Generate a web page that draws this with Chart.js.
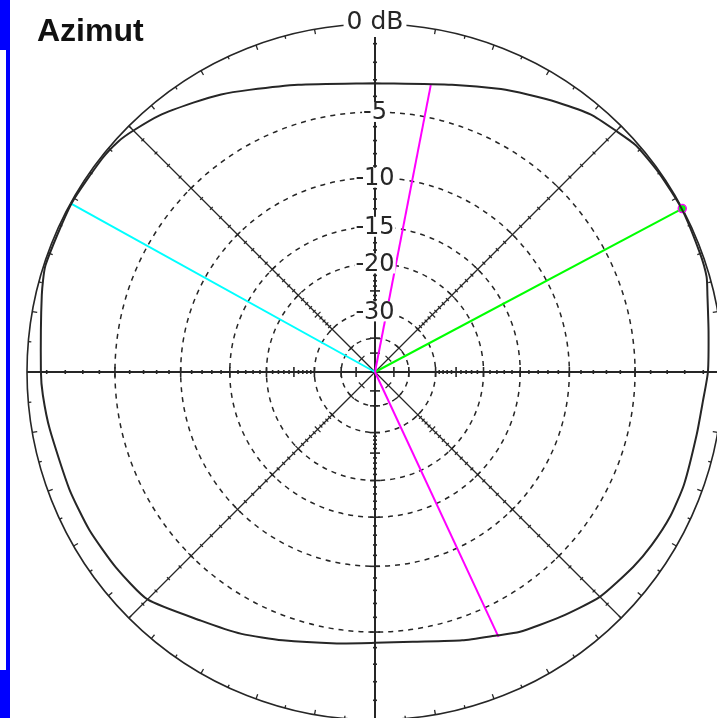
<!DOCTYPE html>
<html>
<head>
<meta charset="utf-8">
<script src="https://cdn.jsdelivr.net/npm/chart.js@4.4.1/dist/chart.umd.min.js"></script>
<style>
  html, body { margin: 0; padding: 0; background: #fff; overflow: hidden; width: 717px; height: 718px; }
  #wrap { position: absolute; left: 0; top: 0; width: 750px; height: 750px; }
  .bar { position: absolute; background: #0000ff; z-index: 2; }
</style>
</head>
<body>
<div id="wrap"><canvas id="azChart" width="750" height="750"></canvas></div>
<div class="bar" style="left:0;top:0;width:10px;height:50px"></div>
<div class="bar" style="left:6px;top:50px;width:4px;height:620px"></div>
<div class="bar" style="left:0;top:670px;width:10px;height:48px"></div>
<script>
// rings of the ARRL log scale (dB)
const ringDb = [-5, -10, -15, -20, -30, -40];
const ringLabels = ["-5", "-10", "-15", "-20", "-30"];

// azimuth pattern, bearing in degrees clockwise from north, gain in dB
const patternAz = [0, 15, 24, 29, 34, 40, 45, 49, 55, 62, 70, 74, 77, 83, 90, 95, 101, 110, 116, 122, 127, 135, 143, 151, 155, 162, 172, 180, 188, 199, 207, 215, 225, 233, 241, 249, 260, 266, 270, 283, 288, 299, 308, 312, 315, 320, 326, 331, 336, 345];
const patternDb = [-3.2, -2.7, -2.0, -1.6, -1.15, -0.6, -0.35, -0.12, -0.06, -0.03, -0.1, -0.15, -0.34, -0.6, -0.76, -0.95, -1.03, -0.97, -0.98, -1.1, -1.25, -1.55, -2.15, -2.7, -3.1, -3.6, -4.2, -4.3, -4.1, -3.5, -2.9, -2.35, -1.35, -1.2, -1.1, -1.05, -0.9, -0.76, -0.7, -0.3, -0.08, -0.04, -0.08, -0.15, -0.32, -0.65, -1.18, -1.58, -2.05, -2.7];

// marker lines: -3 dB points (magenta), max gain (green), back (cyan)
const spokeAz = [11, 155, 299, 62];
const spokeDb = [-3, -3, 0, 0];

function rho(db) {
  return Math.pow(0.89, -db / 2);
}

function toXY(az, db) {
  const r = rho(db);
  const a = az * Math.PI / 180;
  return { x: r * Math.sin(a), y: r * Math.cos(a) };
}

const patternPts = patternAz.map((a, i) => toXY(a, patternDb[i]));
patternPts.push(patternPts[0]);

function spokeData(i) {
  return [{ x: 0, y: 0 }, toXY(spokeAz[i], spokeDb[i])];
}

const ink = "#262626";

const polarGrid = {
  id: "polarGrid",
  beforeDatasetsDraw(chart) {
    const { ctx, scales } = chart;
    const cx = scales.x.getPixelForValue(0);
    const cy = scales.y.getPixelForValue(0);
    const R = scales.x.getPixelForValue(1) - cx;
    ctx.save();
    ctx.strokeStyle = ink;

    // dashed rings
    ctx.lineWidth = 1.5;
    ctx.setLineDash([5, 5]);
    ringDb.forEach(db => {
      ctx.beginPath();
      ctx.arc(cx, cy, R * rho(db), 0, Math.PI * 2);
      ctx.stroke();
    });
    ctx.setLineDash([]);

    // 0 dB ring
    ctx.lineWidth = 1.6;
    ctx.beginPath();
    ctx.arc(cx, cy, R, 0, Math.PI * 2);
    ctx.stroke();

    // bearing ticks on the 0 dB ring
    ctx.lineWidth = 1.3;
    for (let a = 0; a < 360; a += 5) {
      const t = a * Math.PI / 180;
      const s = Math.sin(t), c = Math.cos(t);
      const len = a % 10 === 0 ? 5 : 3;
      ctx.beginPath();
      ctx.moveTo(cx + R * s, cy - R * c);
      ctx.lineTo(cx + (R - len) * s, cy - (R - len) * c);
      ctx.stroke();
    }

    // spokes with dB ticks
    for (let a = 0; a < 360; a += 45) {
      const t = a * Math.PI / 180;
      const s = Math.sin(t), c = Math.cos(t);
      const main = a % 90 === 0;
      ctx.lineWidth = main ? 2 : 1.3;
      ctx.beginPath();
      ctx.moveTo(cx, cy);
      ctx.lineTo(cx + R * s, cy - R * c);
      ctx.stroke();
      ctx.lineWidth = main ? 1.6 : 1.2;
      for (let db = -1; db >= -50; db--) {
        const major = db % 5 === 0;
        if (!major && db < -30) continue;
        if (major && db < -30 && db % 10 !== 0) continue;
        const r = R * rho(db);
        const h = major ? (main ? 5 : 4) : 2;
        const px = cx + r * s, py = cy - r * c;
        ctx.beginPath();
        ctx.moveTo(px - h * c, py - h * s);
        ctx.lineTo(px + h * c, py + h * s);
        ctx.stroke();
      }
    }
    ctx.restore();
  },
  afterDatasetsDraw(chart) {
    const { ctx, scales } = chart;
    const cx = scales.x.getPixelForValue(0);
    const cy = scales.y.getPixelForValue(0);
    const R = scales.x.getPixelForValue(1) - cx;
    ctx.save();
    ctx.textAlign = "center";
    ctx.textBaseline = "middle";

    ctx.font = "24px 'DejaVu Sans', sans-serif";
    ringLabels.forEach((lab, i) => {
      const y = cy - R * rho(ringDb[i]);
      const w = ctx.measureText(lab).width;
      ctx.fillStyle = "#fff";
      ctx.fillRect(cx - w / 2 - 1, y - 10, w + 2, 20);
      ctx.fillStyle = ink;
      ctx.fillText(lab, cx, y + 1);
    });

    ctx.font = "25px 'DejaVu Sans', sans-serif";
    const top = "0 dB";
    const tw = ctx.measureText(top).width;
    ctx.fillStyle = "#fff";
    ctx.fillRect(cx - tw / 2 - 3, cy - R - 17, tw + 6, 30);
    ctx.fillStyle = ink;
    ctx.fillText(top, cx, cy - R - 2);

    ctx.textAlign = "left";
    ctx.textBaseline = "alphabetic";
    ctx.font = "bold 32px 'Liberation Sans', Arial, sans-serif";
    ctx.fillStyle = "#111";
    ctx.fillText("Azimut", 37, 41);
    ctx.restore();
  }
};

const ctx = document.getElementById("azChart").getContext("2d");

new Chart(ctx, {
  type: "scatter",
  data: {
    datasets: [
      {
        label: "Azimut",
        data: patternPts,
        showLine: true,
        borderColor: ink,
        borderWidth: 2,
        pointRadius: 0,
        tension: 0.2
      },
      {
        label: "-3 dB",
        data: spokeData(0),
        showLine: true,
        borderColor: "#ff00ff",
        borderWidth: 2,
        pointRadius: 0
      },
      {
        label: "-3 dB",
        data: spokeData(1),
        showLine: true,
        borderColor: "#ff00ff",
        borderWidth: 2,
        pointRadius: 0
      },
      {
        label: "back",
        data: spokeData(2),
        showLine: true,
        borderColor: "#00ffff",
        borderWidth: 2,
        pointRadius: 0
      },
      {
        label: "max",
        data: spokeData(3),
        showLine: true,
        borderColor: "#00ff00",
        borderWidth: 2,
        pointRadius: c => (c.dataIndex === 1 ? 4 : 0),
        pointBackgroundColor: "#00ff00",
        pointBorderColor: "#ff00ff",
        pointBorderWidth: 1.5
      }
    ]
  },
  options: {
    responsive: false,
    devicePixelRatio: 1,
    animation: false,
    events: [],
    layout: { padding: { left: 27, right: 27, top: 24, bottom: 30 } },
    scales: {
      x: { type: "linear", min: -1, max: 1, display: false },
      y: { type: "linear", min: -1, max: 1, display: false }
    },
    plugins: {
      legend: { display: false },
      tooltip: { enabled: false }
    }
  },
  plugins: [polarGrid]
});
</script>
</body>
</html>
